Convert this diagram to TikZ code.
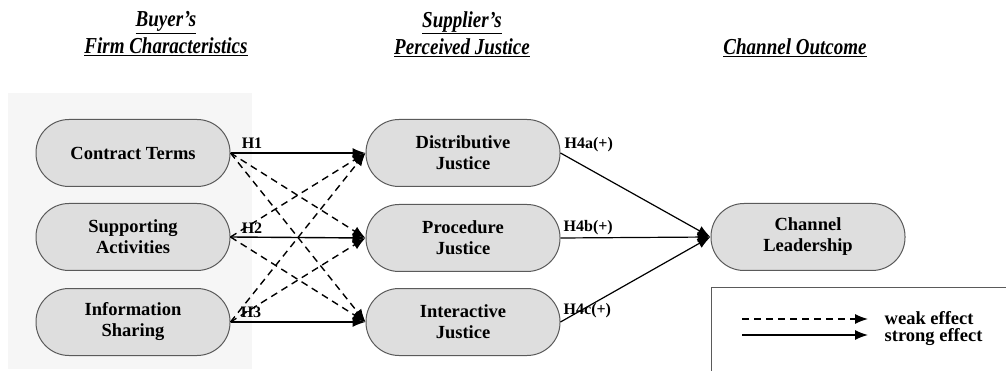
\documentclass[tikz,border=0pt]{standalone}
\usepackage{fontspec}
\setmainfont{Liberation Serif}
\usetikzlibrary{arrows.meta}
\definecolor{knotengrau}{HTML}{DEDEDE}
\definecolor{randgrau}{HTML}{5A5A5A}
\definecolor{flaechegrau}{HTML}{F6F6F6}
\newcommand{\kopfzeile}[1]{\underline{\scalebox{1}[1.2]{#1}}}
\begin{document}
\begin{tikzpicture}[x=1pt, y=-1pt, line width=1.4pt,
	konstrukt/.style={draw=randgrau, line width=1pt, fill=knotengrau, rounded corners=33pt,
		minimum width=194pt, minimum height=67pt, inner sep=0pt, align=center,
		font=\fontsize{18.5}{21}\selectfont\bfseries},
	kopf/.style={align=center, font=\fontsize{19}{27}\selectfont\bfseries\itshape},
	hypo/.style={inner sep=0pt, font=\fontsize{16}{16}\selectfont\bfseries},
	legtext/.style={anchor=west, inner sep=0pt, font=\fontsize{18.5}{18}\selectfont\bfseries},
	stark/.style={-{Latex[length=13pt,width=10pt]}},
	schwach/.style={-{Latex[length=13pt,width=10pt]}, dash pattern=on 7pt off 5pt}]
	%%Rahmen
	\clip (0,0) rectangle (1006,371);
	\fill[flaechegrau] (8,93) rectangle (252,369);
	%%Ueberschriften
	\node[kopf] (kopfa) at (166,34) {\kopfzeile{Buyer’s}\\\kopfzeile{Firm Characteristics}};
	\node[kopf] (kopfb) at (462,34) {\kopfzeile{Supplier’s}\\\kopfzeile{Perceived Justice}};
	\node[kopf] (kopfc) at (795,48) {\kopfzeile{Channel Outcome}};
	%%Konstrukte
	\node[konstrukt] (ct) at (133,153) {Contract Terms};
	\node[konstrukt] (sa) at (133,237) {Supporting\\Activities};
	\node[konstrukt] (is) at (133,322) {Information\\Sharing};
	\node[konstrukt] (dj) at (463,153) {Distributive\\Justice};
	\node[konstrukt] (pj) at (463,238) {Procedure\\Justice};
	\node[konstrukt] (ij) at (463,322) {Interactive\\Justice};
	\node[konstrukt] (cl) at (808,237) {Channel\\Leadership};
	%%Pfeile
	\foreach \a/\b in {ct/pj, ct/ij, sa/dj, sa/ij, is/dj, is/pj}
		\draw[schwach] (\a.east) -- (\b.west);
	\foreach \a/\b in {ct/dj, sa/pj, is/ij}
		\draw[stark] (\a.east) -- (\b.west);
	\foreach \a in {dj, pj, ij}
		\draw[stark, line width=1.2pt] (\a.east) -- (cl.west);
	%%Hypothesen
	\node[hypo] (h1) at (252,143) {H1};
	\node[hypo] (h2) at (252,228) {H2};
	\node[hypo] (h3) at (251,312) {H3};
	\node[hypo, anchor=west] (h4a) at (564,145) {H4a(+)};
	\node[hypo, anchor=west] (h4b) at (563,228) {H4b(+)};
	\node[hypo, anchor=west] (h4c) at (563,311) {H4c(+)};
	%%Legende
	\draw[randgrau, line width=1pt] (711,287) rectangle (1012,380);
	\coordinate (wa) at (742,319);
	\coordinate (wb) at (868,319);
	\coordinate (sa1) at (742,335);
	\coordinate (sb1) at (868,335);
	\draw[schwach] (wa) -- (wb);
	\draw[stark] (sa1) -- (sb1);
	\node[legtext] (weak) at (884,318) {weak effect};
	\node[legtext] (strong) at (884,337) {strong effect};
\end{tikzpicture}
\end{document}
